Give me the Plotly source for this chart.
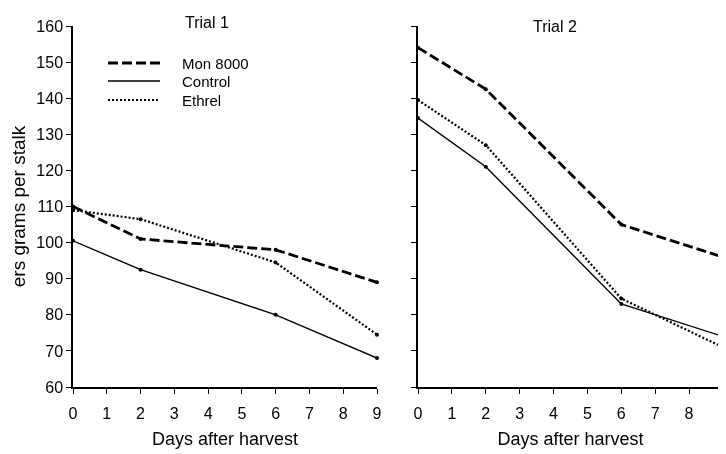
import plotly.graph_objects as go

days = [0, 2, 6, 9]
trial1_mon = [110, 101, 98, 89]
trial1_control = [100.5, 92.5, 80, 68]
trial1_ethrel = [109, 106.5, 94.5, 74.5]
trial2_mon = [154, 142.5, 105, 96]
trial2_control = [134.5, 121, 83, 74]
trial2_ethrel = [139.5, 127, 84.5, 71]

series_names = ["Mon 8000", "Control", "Ethrel"]
dashes = ["10px,4px", "solid", "2px,2px"]
widths = [2.8, 1.4, 2.2]
x_ticks = list(range(10))
y_ticks = list(range(60, 161, 10))

FONT = "Liberation Sans, Arial, sans-serif"
# page body has an 8px default margin; size the figure to fill the window
OFF = 8
W, H = 726 - OFF, 454 - OFF
L, R, T, B = 73 - OFF, 3, 26 - OFF, 67
PW, PH = W - L - R, H - T - B

def px(xp):  # window pixel -> paper fraction
    return (xp - OFF - L) / PW

def py(yp):
    return (H - B - (yp - OFF)) / PH

fig = go.Figure()

t1 = [trial1_mon, trial1_control, trial1_ethrel]
t2 = [trial2_mon, trial2_control, trial2_ethrel]
for i, name in enumerate(series_names):
    fig.add_trace(go.Scatter(x=days, y=t1[i], mode="lines+markers", name=name,
                             line=dict(color="black", dash=dashes[i], width=widths[i]),
                             marker=dict(size=4, color="black"),
                             xaxis="x", yaxis="y", cliponaxis=False, showlegend=False))
for i, name in enumerate(series_names):
    fig.add_trace(go.Scatter(x=days, y=t2[i], mode="lines+markers", name=name,
                             line=dict(color="black", dash=dashes[i], width=widths[i]),
                             marker=dict(size=4, color="black"),
                             xaxis="x2", yaxis="y2", cliponaxis=False, showlegend=False))

# invisible carriers so the label-only axes get drawn
fig.add_trace(go.Scatter(x=days, y=trial1_mon, mode="markers", opacity=0,
                         hoverinfo="skip", showlegend=False, xaxis="x3", yaxis="y"))
fig.add_trace(go.Scatter(x=days, y=trial2_mon, mode="markers", opacity=0,
                         hoverinfo="skip", showlegend=False, xaxis="x4", yaxis="y2"))

axis_common = dict(showgrid=False, zeroline=False, showline=True, linecolor="black",
                   linewidth=1.5, ticks="outside", ticklen=5, tickcolor="black",
                   automargin=False,
                   tickfont=dict(family=FONT, size=16, color="black"))

# label-only axes (transparent long ticks push the day labels a little lower)
label_axis = dict(showgrid=False, zeroline=False, showline=False, ticks="outside",
                  ticklen=12, tickcolor="rgba(0,0,0,0)", automargin=False,
                  range=[0, 9.002], tickvals=x_ticks,
                  tickfont=dict(family=FONT, size=16, color="black"))

shapes = []
annotations = []
leg_y = [63, 81, 100]
for i, name in enumerate(series_names):
    shapes.append(dict(type="line", xref="paper", yref="paper",
                       x0=px(108), x1=px(160), y0=py(leg_y[i]), y1=py(leg_y[i]),
                       line=dict(color="black", dash=dashes[i], width=widths[i])))
    annotations.append(dict(text=name, x=px(180), y=py(leg_y[i]), xref="paper", yref="paper",
                            xanchor="left", yanchor="middle", showarrow=False,
                            font=dict(family=FONT, size=15, color="black")))

annotations += [
    dict(text="Trial 1", x=px(207), y=py(22), xref="paper", yref="paper",
         xanchor="center", yanchor="middle", showarrow=False,
         font=dict(family=FONT, size=16, color="black")),
    dict(text="Trial 2", x=px(555), y=py(26), xref="paper", yref="paper",
         xanchor="center", yanchor="middle", showarrow=False,
         font=dict(family=FONT, size=16, color="black")),
]

fig.update_layout(
    width=W, height=H,
    paper_bgcolor="white", plot_bgcolor="white",
    margin=dict(l=L, r=R, t=T, b=B),
    font=dict(family=FONT, color="black"),
    showlegend=False,
    xaxis=dict(domain=[0, px(377)], range=[0, 9], tickvals=x_ticks, anchor="y",
               showticklabels=False, **axis_common),
    xaxis3=dict(domain=[0, px(377)], anchor="y", overlaying="x",
                title=dict(text="Days after harvest", font=dict(size=18), standoff=11),
                **label_axis),
    yaxis=dict(domain=[0, 1], range=[60, 160], tickvals=y_ticks, anchor="x",
               title=dict(text="ers grams per stalk", font=dict(size=19), standoff=10),
               **axis_common),
    xaxis2=dict(domain=[px(418), 1], range=[0, 9], tickvals=x_ticks, anchor="y2",
                showticklabels=False, **axis_common),
    xaxis4=dict(domain=[px(418), 1], anchor="y2", overlaying="x2",
                title=dict(text="Days after harvest", font=dict(size=18), standoff=11),
                **label_axis),
    yaxis2=dict(domain=[0, 1], range=[60, 160], tickvals=y_ticks, anchor="x2",
                showticklabels=False, **axis_common),
    shapes=shapes,
    annotations=annotations,
)

fig.write_html("out.html")
